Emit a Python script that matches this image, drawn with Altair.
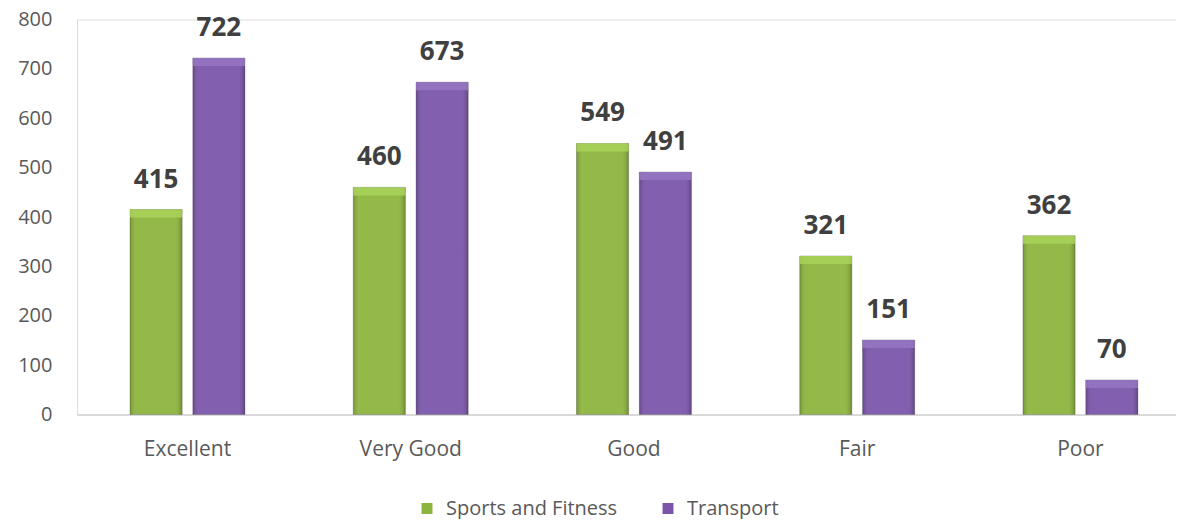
import altair as alt
import pandas as pd

categories = ["Excellent", "Very Good", "Good", "Fair", "Poor"]
series = ["Sports and Fitness", "Transport"]
sports = [415, 460, 549, 321, 362]
transport = [722, 673, 491, 151, 70]
y_ticks = [0, 100, 200, 300, 400, 500, 600, 700, 800]
main_colors = ["#8db53d", "#7b55aa"]
top_colors = ["#a9d25a", "#9677c2"]

rows = []
for i, c in enumerate(categories):
    rows.append({"cat": c, "series": series[0], "value": sports[i]})
    rows.append({"cat": c, "series": series[1], "value": transport[i]})
df = pd.DataFrame(rows)

font = "Open Sans"

x_enc = alt.X(
    "cat:N", sort=categories, title=None,
    scale=alt.Scale(paddingInner=0.485, paddingOuter=0.204, align=0.582),
    axis=alt.Axis(labelAngle=0, labelFont=font, labelFontSize=21, labelColor="#595959",
                  labelPadding=24, ticks=False, domainColor="#d9d9d9", domainWidth=2),
)
xo_enc = alt.XOffset("series:N", sort=series,
                     scale=alt.Scale(paddingInner=0.17, paddingOuter=0))
y_enc = alt.Y(
    "value:Q", title=None,
    scale=alt.Scale(domain=[0, 800], nice=False),
    axis=alt.Axis(values=y_ticks, grid=False, domain=False, ticks=False,
                  labelFont=font, labelFontSize=20, labelColor="#595959",
                  labelPadding=25),
)

base = alt.Chart(df)

bars = base.mark_bar(stroke="#4a4a4a", strokeWidth=0.6, strokeOpacity=0.5).encode(
    x=x_enc, xOffset=xo_enc, y=y_enc,
    color=alt.Color("series:N", sort=series, title=None,
                    scale=alt.Scale(domain=series, range=main_colors),
                    legend=alt.Legend(orient="none", legendX=340, legendY=479,
                                      direction="horizontal", symbolType="square",
                                      symbolSize=120, symbolStrokeWidth=0,
                                      labelFont=font, labelFontSize=20,
                                      labelColor="#595959", labelOffset=9,
                                      labelLimit=0, columnPadding=40)),
)

shade = base.mark_bar(
    fill=alt.Gradient(
        gradient="linear", x1=0, y1=0, x2=1, y2=0,
        stops=[alt.GradientStop(color="rgba(0,0,0,0.18)", offset=0),
               alt.GradientStop(color="rgba(255,255,255,0.06)", offset=0.12),
               alt.GradientStop(color="rgba(255,255,255,0.06)", offset=0.85),
               alt.GradientStop(color="rgba(0,0,0,0.22)", offset=1)]),
).encode(x=x_enc, xOffset=xo_enc, y=y_enc)

top = base.mark_bar(y2Offset=8, opacity=0.85).encode(
    x=x_enc, xOffset=xo_enc, y=y_enc, y2=alt.Y2("value:Q"),
    color=alt.Color("series:N", sort=series, legend=None,
                    scale=alt.Scale(domain=series, range=top_colors)),
)

labels = base.mark_text(font=font, fontSize=26, fontWeight="bold", color="#404040",
                        baseline="alphabetic", dy=-22).encode(
    x=x_enc, xOffset=xo_enc, y=y_enc, text="value:Q",
)

chart = alt.layer(bars, shade, top, labels).resolve_scale(color="independent").properties(
    width=1099, height=395,
    autosize=alt.AutoSizeParams(type="none"),
    padding={"left": 69, "top": 11.5, "right": 0, "bottom": 104.5},
).configure_view(stroke=None).configure(background="white")

chart.save("out.html", embed_options={"renderer": "svg", "actions": False})
